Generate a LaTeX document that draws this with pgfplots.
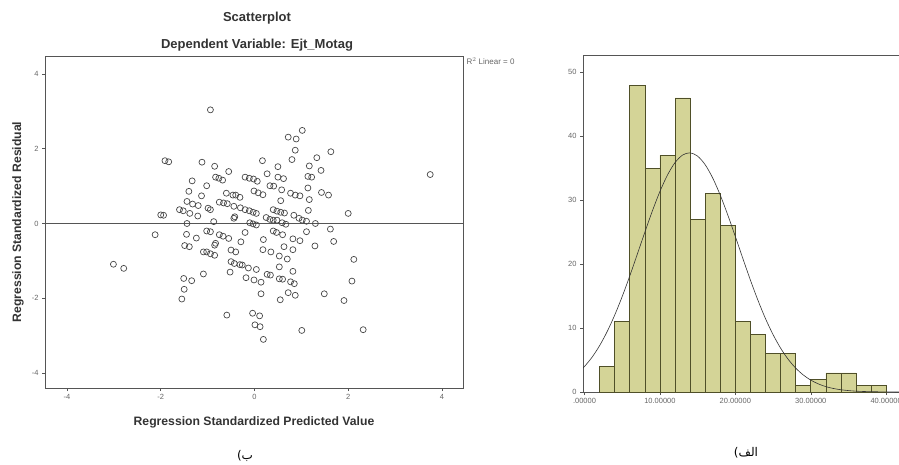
\documentclass[border=0pt]{standalone}
\usepackage{fontspec}
\setmainfont{Liberation Sans}
\newfontfamily\arabicfont[Script=Arabic]{DejaVu Sans}
\TeXXeTstate=1
\usepackage{pgfplots}
\usepackage{pgfplotstable}
\pgfplotsset{compat=1.18}

\definecolor{histfill}{HTML}{D4D497}
\definecolor{histedge}{HTML}{4F4F28}
\definecolor{axisgray}{HTML}{555555}
\definecolor{ticktext}{HTML}{666666}

% residuals vs predicted (read off the scatterplot)
\pgfplotstableread{
x y
1.02 2.49
0.72 2.31
0.89 2.26
0.87 1.96
1.63 1.92
-1.91 1.68
-1.83 1.65
-1.12 1.64
0.17 1.68
0.80 1.71
1.33 1.76
-0.85 1.53
0.50 1.52
1.17 1.54
1.42 1.42
-0.55 1.39
0.27 1.33
-0.83 1.24
-0.76 1.21
-0.68 1.16
-0.20 1.24
-0.11 1.21
-0.02 1.19
0.06 1.13
0.50 1.24
0.62 1.20
1.14 1.26
1.22 1.24
-1.33 1.14
-1.02 1.01
0.33 1.01
0.41 1.00
0.58 0.90
1.14 0.95
-0.01 0.87
0.08 0.82
0.18 0.77
-1.40 0.86
-0.60 0.81
-0.46 0.76
-0.40 0.76
-0.31 0.70
0.77 0.81
0.87 0.76
0.97 0.74
1.43 0.83
1.58 0.76
-1.13 0.74
0.56 0.61
1.17 0.64
-1.44 0.59
-1.32 0.52
-1.20 0.48
-0.75 0.57
-0.66 0.55
-0.58 0.53
-0.44 0.46
-0.30 0.42
-0.20 0.37
-0.11 0.34
-0.03 0.30
0.04 0.27
-0.99 0.41
-0.94 0.37
-1.60 0.37
-1.52 0.34
-1.38 0.27
-1.21 0.20
0.40 0.37
0.48 0.33
0.56 0.30
0.64 0.28
0.84 0.22
1.15 0.35
-2.00 0.23
-1.94 0.22
-0.44 0.14
-0.42 0.18
0.25 0.16
0.33 0.11
0.40 0.09
0.48 0.09
0.59 0.02
0.67 -0.02
0.95 0.14
1.02 0.09
1.11 0.06
2.00 0.27
-1.44 0.00
-0.87 0.05
-0.10 0.02
-0.03 -0.01
0.04 -0.04
1.30 0.00
1.62 -0.15
-1.02 -0.20
-0.94 -0.22
-0.75 -0.30
-0.67 -0.34
-1.45 -0.29
-1.24 -0.39
-0.55 -0.40
-2.12 -0.30
-0.20 -0.24
0.40 -0.20
0.47 -0.24
0.60 -0.30
1.11 -0.22
-0.83 -0.53
-0.85 -0.58
-0.29 -0.49
0.19 -0.43
0.82 -0.41
0.97 -0.46
1.69 -0.48
-1.49 -0.59
-1.39 -0.62
0.63 -0.62
1.29 -0.60
0.82 -0.70
-1.09 -0.76
-1.02 -0.76
-0.94 -0.81
-0.85 -0.85
-0.50 -0.71
-0.40 -0.76
0.18 -0.70
0.35 -0.76
0.53 -0.87
0.70 -0.95
2.12 -0.96
-0.50 -1.02
-0.43 -1.07
-0.31 -1.10
-0.26 -1.11
-0.13 -1.19
0.04 -1.23
0.53 -1.16
0.82 -1.28
-0.52 -1.30
-1.09 -1.35
0.27 -1.36
0.34 -1.38
0.53 -1.48
0.60 -1.49
-1.51 -1.47
-1.34 -1.53
-0.18 -1.45
-0.01 -1.51
0.14 -1.57
0.77 -1.56
0.85 -1.61
2.08 -1.54
-1.50 -1.76
-1.55 -2.02
0.14 -1.88
0.72 -1.85
0.87 -1.92
1.49 -1.88
1.91 -2.06
0.55 -2.04
-0.59 -2.45
-0.04 -2.40
0.11 -2.47
0.01 -2.71
0.12 -2.76
1.01 -2.86
2.32 -2.84
0.19 -3.10
-3.01 -1.09
-2.79 -1.20
-0.94 3.04
3.75 1.31
}\residuals

\begin{document}
\begin{tikzpicture}
\useasboundingbox (0pt,0pt) rectangle (899pt,464pt);
\pgfplotsset{
  every axis/.append style={
    scale only axis,
    axis line style={axisgray, line width=0.8pt},
    tick style={axisgray, line width=0.5pt},
    tick align=outside,
    major tick length=3pt,
    tick label style={font=\fontsize{7.5}{9}\selectfont, text=ticktext},
    /pgf/number format/assume math mode=true,
  },
}

% ---- left: scatterplot of residuals ----
\node[font=\bfseries\fontsize{13}{15}\selectfont, text=black!80] at (257pt,446pt) {Scatterplot};
\node[font=\bfseries\fontsize{13}{15}\selectfont, text=black!80] at (257pt,419pt) {Dependent Variable: Ejt\_Motag};
\begin{axis}[
  at={(45pt,76pt)}, anchor=south west,
  width=418pt, height=332pt,
  xmin=-4.47, xmax=4.45, ymin=-4.4, ymax=4.48,
  xtick={-4,-2,0,2,4}, ytick={-4,-2,0,2,4},
  tick pos=left,
  xlabel={Regression Standardized Predicted Value},
  ylabel={Regression Standardized Residual},
  every axis x label/.style={at={(axis description cs:0.5,0)}, anchor=center, yshift=-34pt,
    font=\bfseries\fontsize{12.2}{14}\selectfont, text=black!80},
  every axis y label/.style={at={(axis description cs:0,0.5)}, rotate=90, anchor=center, yshift=27pt,
    font=\bfseries\fontsize{12.2}{14}\selectfont, text=black!80},
]
\addplot[axisgray, line width=0.8pt] coordinates {(-4.47,0) (4.45,0)};
\addplot[only marks, mark=o, mark size=3pt, mark options={draw=black!72, line width=0.7pt}]
  table[x=x, y=y] {\residuals};
\end{axis}
\node[anchor=west, font=\fontsize{8}{9}\selectfont, text=ticktext] at (463pt,403pt) {R$^2$ Linear = 0};
\node[font=\arabicfont\fontsize{12}{14}\selectfont] at (245pt,8pt) {\beginR ب)\endR};

% ---- right: histogram ----
\begin{axis}[
  at={(583pt,72pt)}, anchor=south west,
  width=316pt, height=337pt,
  xmin=-0.2, xmax=41.7, ymin=0, ymax=52.7,
  axis x line*=bottom, axis y line*=left,
  xtick={0,10,20,30,40},
  xticklabels={.00000,10.00000,20.00000,30.00000,40.00000},
  ytick={0,10,20,30,40,50},
]
\addplot[ybar interval, fill=histfill, draw=histedge, line width=0.6pt] coordinates {
  (2,4) (4,11) (6,48) (8,35) (10,37) (12,46) (14,27) (16,31) (18,26)
  (20,11) (22,9) (24,6) (26,6) (28,1) (30,2) (32,3) (34,3) (36,1) (38,1) (40,1)
};
\addplot[black!80, line width=0.6pt, smooth, no marks] coordinates {
  (-0.2,3.75) (0,3.99) (1,5.44) (2,7.25) (3,9.44) (4,12.02) (5,14.94) (6,18.15)
  (7,21.55) (8,24.99) (9,28.32) (10,31.36) (11,33.93) (12,35.87) (13,37.05)
  (14,37.40) (15,36.88) (16,35.54) (17,33.46) (18,30.78) (19,27.67) (20,24.31)
  (21,20.86) (22,17.49) (23,14.33) (24,11.47) (25,8.98) (26,6.86) (27,5.12)
  (28,3.74) (29,2.67) (30,1.86) (31,1.27) (32,0.84) (33,0.55) (34,0.35)
  (35,0.22) (36,0.13) (37,0.08) (38,0.05) (39,0.03) (40,0.01) (41,0.01) (41.7,0.0)
};
\draw[axisgray, line width=0.8pt] (rel axis cs:0,1) -- (rel axis cs:1,1);
\end{axis}
\node[font=\arabicfont\fontsize{12}{14}\selectfont] at (746pt,11pt) {\beginR الف)\endR};
\end{tikzpicture}
\end{document}
